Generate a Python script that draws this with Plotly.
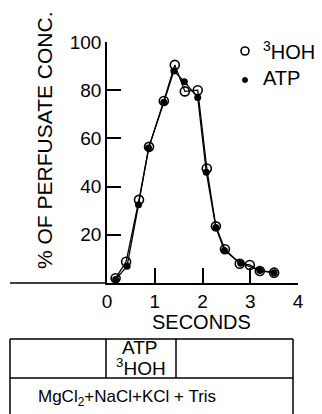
import plotly.graph_objects as go

# ---- data ----
hoh_x = [0.18, 0.40, 0.67, 0.88, 1.19, 1.42, 1.63, 1.90, 2.09, 2.28, 2.47, 2.78, 2.99, 3.20, 3.50]
hoh_y = [2.0, 8.8, 34.5, 56.5, 75.5, 90.5, 79.5, 80.0, 47.5, 23.5, 14.0, 8.0, 7.5, 5.0, 4.3]
atp_x = [0.18, 0.42, 0.66, 0.87, 1.19, 1.40, 1.62, 1.90, 2.08, 2.28, 2.46, 2.80, 3.20, 3.50]
atp_y = [1.5, 7.0, 32.5, 56.0, 75.0, 88.0, 83.5, 77.0, 46.0, 23.0, 13.5, 8.2, 5.2, 4.3]
x_ticks = [0, 1, 2, 3, 4]
x_labels = ["0", "1", "2", "3", "4"]
y_ticks = [20, 40, 60, 80, 100]
y_labels = ["20", "40", "60", "80", "100"]

FONT = "Liberation Sans"
FS = 19
W, H = 322, 414
L, R, T, B = 107, 298, 42, 283  # plot area pixels


def px(p):
    return (p - L) / (R - L)


def py(p):
    return (B - p) / (B - T)


fig = go.Figure()
fig.add_trace(go.Scatter(
    x=atp_x, y=atp_y, mode="lines+markers", name="ATP",
    line=dict(color="black", width=1.3),
    marker=dict(symbol="circle", size=7, color="black"),
    cliponaxis=False,
))
fig.add_trace(go.Scatter(
    x=hoh_x, y=hoh_y, mode="lines+markers", name="3HOH",
    line=dict(color="black", width=1.3),
    marker=dict(symbol="circle-open", size=9, color="black", line=dict(width=1.6)),
    cliponaxis=False,
))

shapes = []


def seg(x0, y0, x1, y1, w=1.5):
    shapes.append(dict(type="line", xref="paper", yref="paper",
                       x0=px(x0), y0=py(y0), x1=px(x1), y1=py(y1),
                       line=dict(color="black", width=w)))


# extension of x axis to the left
seg(10, 283, 107, 283)
# table
seg(10, 339, 293, 339)
seg(10, 378, 293, 378)
seg(10, 339, 10, 420)
seg(293, 339, 293, 420)
seg(106, 339, 106, 378)
seg(176, 339, 176, 378)

# legend symbols
shapes.append(dict(type="circle", xref="paper", yref="paper",
                   x0=px(241), x1=px(249), y0=py(47), y1=py(55),
                   line=dict(color="black", width=1.6)))
shapes.append(dict(type="circle", xref="paper", yref="paper",
                   x0=px(242.5), x1=px(247.5), y0=py(77.5), y1=py(82.5),
                   line=dict(color="black", width=1), fillcolor="black"))

ann = []


def text(t, x, y, xa="center", ya="middle", angle=0, size=FS):
    ann.append(dict(text=t, xref="paper", yref="paper", x=px(x), y=py(y),
                    xanchor=xa, yanchor=ya, showarrow=False, textangle=angle,
                    font=dict(family=FONT, size=size, color="black")))


text("SECONDS", 201, 322, size=20)
text("% OF PERFUSATE CONC.", 44, 141, angle=-90, size=21)
text("<sup>3</sup>HOH", 261, 51, xa="left", size=20)
text("ATP", 261, 78, xa="left", size=20)
text("ATP", 140, 347)
text("<sup>3</sup>HOH", 141, 367)
text("MgCl<sub>2</sub>+NaCl+KCl + Tris", 36, 398, xa="left", size=17)

fig.update_layout(
    width=W, height=H,
    margin=dict(l=L, r=W - R, t=T, b=H - B, pad=0),
    paper_bgcolor="white", plot_bgcolor="white",
    showlegend=False,
    font=dict(family=FONT, size=FS, color="black"),
    shapes=shapes, annotations=ann,
    xaxis=dict(range=[0, 4], tickvals=x_ticks, ticktext=x_labels,
               ticks="inside", ticklen=15, tickwidth=1.5, tickcolor="black",
               showline=True, linecolor="black", linewidth=1.5,
               showgrid=False, zeroline=False, fixedrange=True),
    yaxis=dict(range=[0, 100], tickvals=y_ticks, ticktext=y_labels,
               ticks="inside", ticklen=14, tickwidth=1.5, tickcolor="black",
               showline=True, linecolor="black", linewidth=1.5,
               showgrid=False, zeroline=False, fixedrange=True),
)

fig.write_html("out.html")
